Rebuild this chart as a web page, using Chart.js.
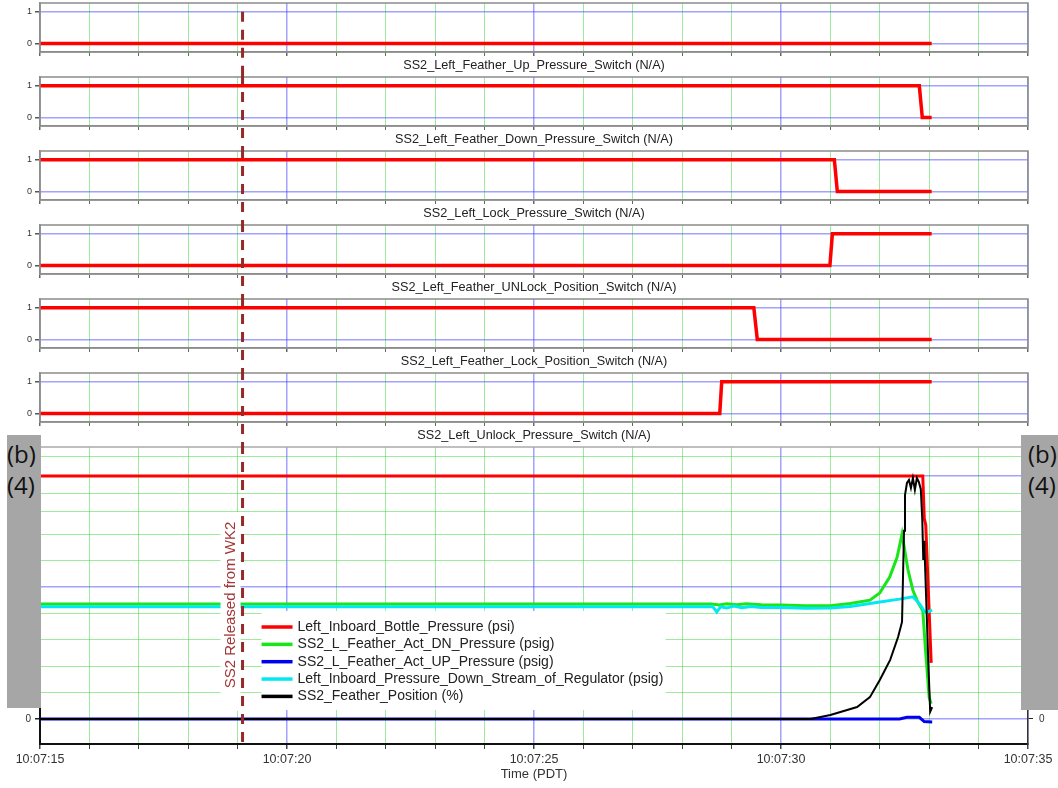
<!DOCTYPE html>
<html lang="en">
<head>
<meta charset="UTF-8" />
<title>SS2 left feather switches and pressures</title>
<script src="https://cdn.jsdelivr.net/npm/chart.js"></script>
<style>
  body{margin:0;background:#fff;width:1058px;height:788px;overflow:hidden;position:relative;font-family:"Liberation Sans",Arial,sans-serif}
  canvas{position:absolute;left:0}
  .redact{position:absolute;background:#a6a6a6;color:#111;font-family:"Open Sans","Liberation Sans",Arial,sans-serif;font-size:24px;line-height:31px;padding-top:3px;box-sizing:border-box;z-index:5;overflow:hidden;white-space:nowrap}
</style>
</head>
<body>
<div id="strips"></div>
<canvas id="mainChart" width="1058" height="344" style="top:444px"></canvas>
<div class="redact" style="left:7px;top:435px;width:34px;height:273px">(b)<br>(4)</div>
<div class="redact" style="left:1021px;top:435px;width:37px;height:275px;padding-left:7px">(b)<br>(4)</div>

<script>
// time in seconds after 10:07:00
const T_MIN = 15, T_MAX = 35;
const RELEASE_T = 19.1;

// switch strips (0/1)
const stripLabels = [
  'SS2_Left_Feather_Up_Pressure_Switch (N/A)',
  'SS2_Left_Feather_Down_Pressure_Switch (N/A)',
  'SS2_Left_Lock_Pressure_Switch (N/A)',
  'SS2_Left_Feather_UNLock_Position_Switch (N/A)',
  'SS2_Left_Feather_Lock_Position_Switch (N/A)',
  'SS2_Left_Unlock_Pressure_Switch (N/A)'
];
const upSwT = [15, 33.05],                     upSwV = [0, 0];
const dnSwT = [15, 32.80, 32.86, 33.05],       dnSwV = [1, 1, 0, 0];
const lockSwT = [15, 31.08, 31.14, 33.05],     lockSwV = [1, 1, 0, 0];
const unlockPosT = [15, 30.99, 31.04, 33.05],  unlockPosV = [0, 0, 1, 1];
const lockPosT = [15, 29.45, 29.52, 33.05],    lockPosV = [1, 1, 0, 0];
const unlockSwT = [15, 28.76, 28.80, 33.05],   unlockSwV = [0, 0, 1, 1];
const stripTimes = [upSwT, dnSwT, lockSwT, unlockPosT, lockPosT, unlockSwT];
const stripValues = [upSwV, dnSwV, lockSwV, unlockPosV, lockPosV, unlockSwV];
const stripTops = [0, 74, 148, 222, 296, 370];

// bottom panel series (axis labels are redacted, units nominal)
const seriesNames = [
  'Left_Inboard_Bottle_Pressure (psi)',
  'SS2_L_Feather_Act_DN_Pressure (psig)',
  'SS2_L_Feather_Act_UP_Pressure (psig)',
  'Left_Inboard_Pressure_Down_Stream_of_Regulator (psig)',
  'SS2_Feather_Position (%)'
];
const seriesColors = ['#ff0000', '#19e619', '#0000f0', '#00e8f4', '#000000'];
const seriesWidths = [3, 3, 3, 3, 2];

const bottleT = [15, 32.87, 32.90, 32.93, 33.04];
const bottleV = [3680, 3680, 3040, 2940, 850];
const dnPresT = [15, 28.6, 28.75, 28.9, 29.1, 29.3, 29.6, 30.0, 30.5, 31.0, 31.4, 31.8, 32.0, 32.2, 32.35, 32.45, 32.57, 32.67, 32.77, 32.87, 32.93, 33.0, 33.04];
const dnPresV = [1740, 1740, 1725, 1745, 1730, 1745, 1730, 1725, 1715, 1715, 1750, 1800, 1910, 2150, 2450, 2800, 2260, 1950, 1770, 1640, 1000, 320, 230];
const upPresT = [15, 32.4, 32.55, 32.8, 32.9, 33.06];
const upPresV = [0, 0, 25, 25, -40, -45];
const regT = [15, 28.62, 28.70, 28.78, 28.9, 29.05, 29.2, 29.4, 29.6, 30.0, 30.5, 31.0, 31.4, 32.0, 32.4, 32.67, 32.81, 32.91, 32.98, 33.06];
const regV = [1700, 1700, 1620, 1700, 1680, 1710, 1685, 1705, 1690, 1690, 1675, 1680, 1705, 1770, 1815, 1850, 1740, 1620, 1625, 1650];
const posT = [15, 30.6, 31.0, 31.54, 31.8, 32.0, 32.21, 32.37, 32.45, 32.49, 32.51, 32.55, 32.59, 32.63, 32.67, 32.71, 32.75, 32.79, 32.83, 32.86, 32.88, 32.9, 32.94, 32.98, 33.02, 33.06];
const posV = [0, 0, 60, 180, 330, 590, 895, 1240, 1470, 2850, 3390, 3575, 3620, 3500, 3650, 3470, 3650, 3590, 3480, 3020, 2410, 2700, 1800, 900, 110, 180];
const seriesTimes = [bottleT, dnPresT, upPresT, regT, posT];
const seriesValues = [bottleV, dnPresV, upPresV, regV, posV];

const mainMajorTicks = [0, 1000, 2000, 3000, 3680];
const mainMinorTicks = [200, 400, 600, 800, 1200, 1400, 1600, 1800, 2200, 2400, 2600, 2800, 3136, 3272, 3408, 3544, 3830, 3980];

const BLUE_GRID = 'rgba(70,70,255,0.5)';
const GREEN_GRID = 'rgba(40,210,40,0.45)';
const DASH_COLOR = '#952a2a';
const FONT = '"Liberation Sans", Arial, sans-serif';

function toXY(ts, vs){ return ts.map((t,i)=>({x:t, y:vs[i]})); }
function pad2(n){ return (n<10?'0':'')+n; }

function xGridColor(c){ return (c.tick && c.tick.value % 5 === 0) ? BLUE_GRID : GREEN_GRID; }
function xGridWidth(c){ return (c.tick && c.tick.value % 5 === 0) ? 1.5 : 1; }
// fixed axis widths, no extra label padding above/below the plot
function fixWidth(w){ return s => { s.width = w; s.paddingTop = 0; s.paddingBottom = 0; }; }

function releaseLine(chart, yFrom, yTo){
  const x = chart.scales.x.getPixelForValue(RELEASE_T);
  const ctx = chart.ctx;
  ctx.save();
  ctx.strokeStyle = DASH_COLOR;
  ctx.lineWidth = 3;
  ctx.setLineDash([10, 8]);
  ctx.beginPath(); ctx.moveTo(x, yFrom); ctx.lineTo(x, yTo); ctx.stroke();
  ctx.restore();
}

const stripDecor = {
  id: 'stripDecor',
  afterDraw(chart, args, opts){
    const a = chart.chartArea, ctx = chart.ctx;
    ctx.save();
    ctx.strokeStyle = '#8c8c8c';
    ctx.lineWidth = 1.5;
    ctx.strokeRect(a.left, a.top, a.right - a.left, a.bottom - a.top);
    ctx.restore();
    const yFrom = opts.first ? chart.scales.y.getPixelForValue(1) : 0;
    releaseLine(chart, yFrom, chart.height);
  }
};

// build the six switch strips
const stripsBox = document.getElementById('strips');
stripLabels.forEach((label, i) => {
  const cv = document.createElement('canvas');
  cv.width = 1058; cv.height = 74;
  cv.style.top = stripTops[i] + 'px';
  stripsBox.appendChild(cv);
  new Chart(cv.getContext('2d'), {
    type: 'line',
    data: { datasets: [{ data: toXY(stripTimes[i], stripValues[i]), borderColor: '#ff0000', borderWidth: 3.5, pointRadius: 0, tension: 0 }] },
    options: {
      responsive: false, animation: false, events: [],
      layout: { padding: { top: 3, right: 30, left: 0, bottom: 0 } },
      plugins: { legend: { display: false }, tooltip: { enabled: false }, stripDecor: { first: i === 0 } },
      scales: {
        x: {
          type: 'linear', min: T_MIN, max: T_MAX,
          ticks: { display: false, stepSize: 1, autoSkip: false },
          grid: { color: xGridColor, lineWidth: xGridWidth, tickLength: 4, tickColor: '#666' },
          border: { color: '#8c8c8c', width: 1.5 },
          title: { display: true, text: label, color: '#222', font: { family: FONT, size: 12.7 }, padding: { top: 2, bottom: 1 } },
          afterFit: s => { s.height = 22; }
        },
        y: {
          min: -0.27, max: 1.28,
          afterBuildTicks: s => { s.ticks = [{ value: 0 }, { value: 1 }]; },
          ticks: { color: '#333', font: { family: FONT, size: 9 }, padding: 3 },
          grid: { color: BLUE_GRID, lineWidth: 1.5, tickLength: 5, tickColor: '#555' },
          border: { color: '#8c8c8c', width: 1.5 },
          afterFit: fixWidth(40)
        }
      }
    },
    plugins: [stripDecor]
  });
});

// bottom panel
const mainDecor = {
  id: 'mainDecor',
  afterDatasetsDraw(chart){
    const ctx = chart.ctx, a = chart.chartArea;
    const xr = chart.scales.x.getPixelForValue(RELEASE_T);
    ctx.save();
    // top frame
    ctx.strokeStyle = '#aaaaaa'; ctx.lineWidth = 1.5;
    ctx.beginPath(); ctx.moveTo(a.left, a.top); ctx.lineTo(a.right, a.top); ctx.stroke();
    // note behind rotated text
    ctx.fillStyle = '#ffffff';
    ctx.fillRect(xr - 22, 68, 20, 199);
    ctx.translate(xr - 12, 161);
    ctx.rotate(-Math.PI / 2);
    ctx.fillStyle = '#a33636';
    ctx.font = '15px ' + FONT;
    ctx.textAlign = 'center'; ctx.textBaseline = 'middle';
    ctx.fillText('SS2 Released from WK2', 0, 0);
    ctx.restore();

    // legend box
    const lx = xr + 19, ly = 167;
    ctx.save();
    ctx.fillStyle = '#ffffff';
    ctx.fillRect(lx, ly, 404, 99);
    ctx.font = '14px ' + FONT;
    ctx.textBaseline = 'middle';
    chart.data.datasets.forEach((ds, k) => {
      const yy = ly + 16 + k * 17.35;
      ctx.strokeStyle = ds.borderColor; ctx.lineWidth = 3.5;
      ctx.beginPath(); ctx.moveTo(lx, yy); ctx.lineTo(lx + 31, yy); ctx.stroke();
      ctx.fillStyle = '#222';
      ctx.fillText(ds.label, lx + 36, yy);
    });
    ctx.restore();

    releaseLine(chart, 0, a.bottom);
  }
};

const mainTicks = () => mainMajorTicks.concat(mainMinorTicks).sort((p, q) => p - q).map(v => ({ value: v }));

new Chart(document.getElementById('mainChart').getContext('2d'), {
  type: 'line',
  data: {
    datasets: seriesNames.map((name, k) => ({
      label: name,
      data: toXY(seriesTimes[k], seriesValues[k]),
      borderColor: seriesColors[k], borderWidth: seriesWidths[k],
      pointRadius: 0, tension: 0, order: 5 - k
    }))
  },
  options: {
    responsive: false, animation: false, events: [],
    layout: { padding: { top: 3, right: 0, left: 0, bottom: 0 } },
    plugins: { legend: { display: false }, tooltip: { enabled: false } },
    scales: {
      x: {
        type: 'linear', min: T_MIN, max: T_MAX,
        ticks: {
          stepSize: 1, autoSkip: false, maxRotation: 0, padding: 3,
          color: '#333', font: { family: FONT, size: 12.5 },
          callback: v => (v % 5 === 0 ? '10:07:' + pad2(v) : '')
        },
        grid: { color: xGridColor, lineWidth: xGridWidth, tickLength: 5, tickColor: '#444' },
        border: { color: '#111', width: 2 },
        title: { display: true, text: 'Time (PDT)', color: '#333', font: { family: FONT, size: 13 }, padding: { top: 0, bottom: 6 } },
        afterFit: s => { s.height = 44; }
      },
      y: {
        min: -380, max: 4120,
        afterBuildTicks: s => { s.ticks = mainTicks(); },
        ticks: { color: '#333', font: { family: FONT, size: 10 }, padding: 4, callback: v => (v === 0 ? '0' : '') },
        grid: {
          color: c => (c.tick && mainMajorTicks.includes(c.tick.value)) ? BLUE_GRID : GREEN_GRID,
          lineWidth: c => (c.tick && mainMajorTicks.includes(c.tick.value)) ? 1.5 : 1,
          tickLength: 5, tickColor: '#222'
        },
        border: { color: '#111', width: 2 },
        afterFit: fixWidth(40)
      },
      yRight: {
        position: 'right', min: -380, max: 4120,
        afterBuildTicks: s => { s.ticks = mainTicks(); },
        ticks: { color: '#333', font: { family: FONT, size: 10 }, padding: 6, callback: v => (v === 0 ? '0' : '') },
        grid: { drawOnChartArea: false, tickLength: 5, tickColor: '#222' },
        border: { color: '#333', width: 1.5 },
        afterFit: fixWidth(30)
      }
    }
  },
  plugins: [mainDecor]
});
</script>
</body>
</html>
